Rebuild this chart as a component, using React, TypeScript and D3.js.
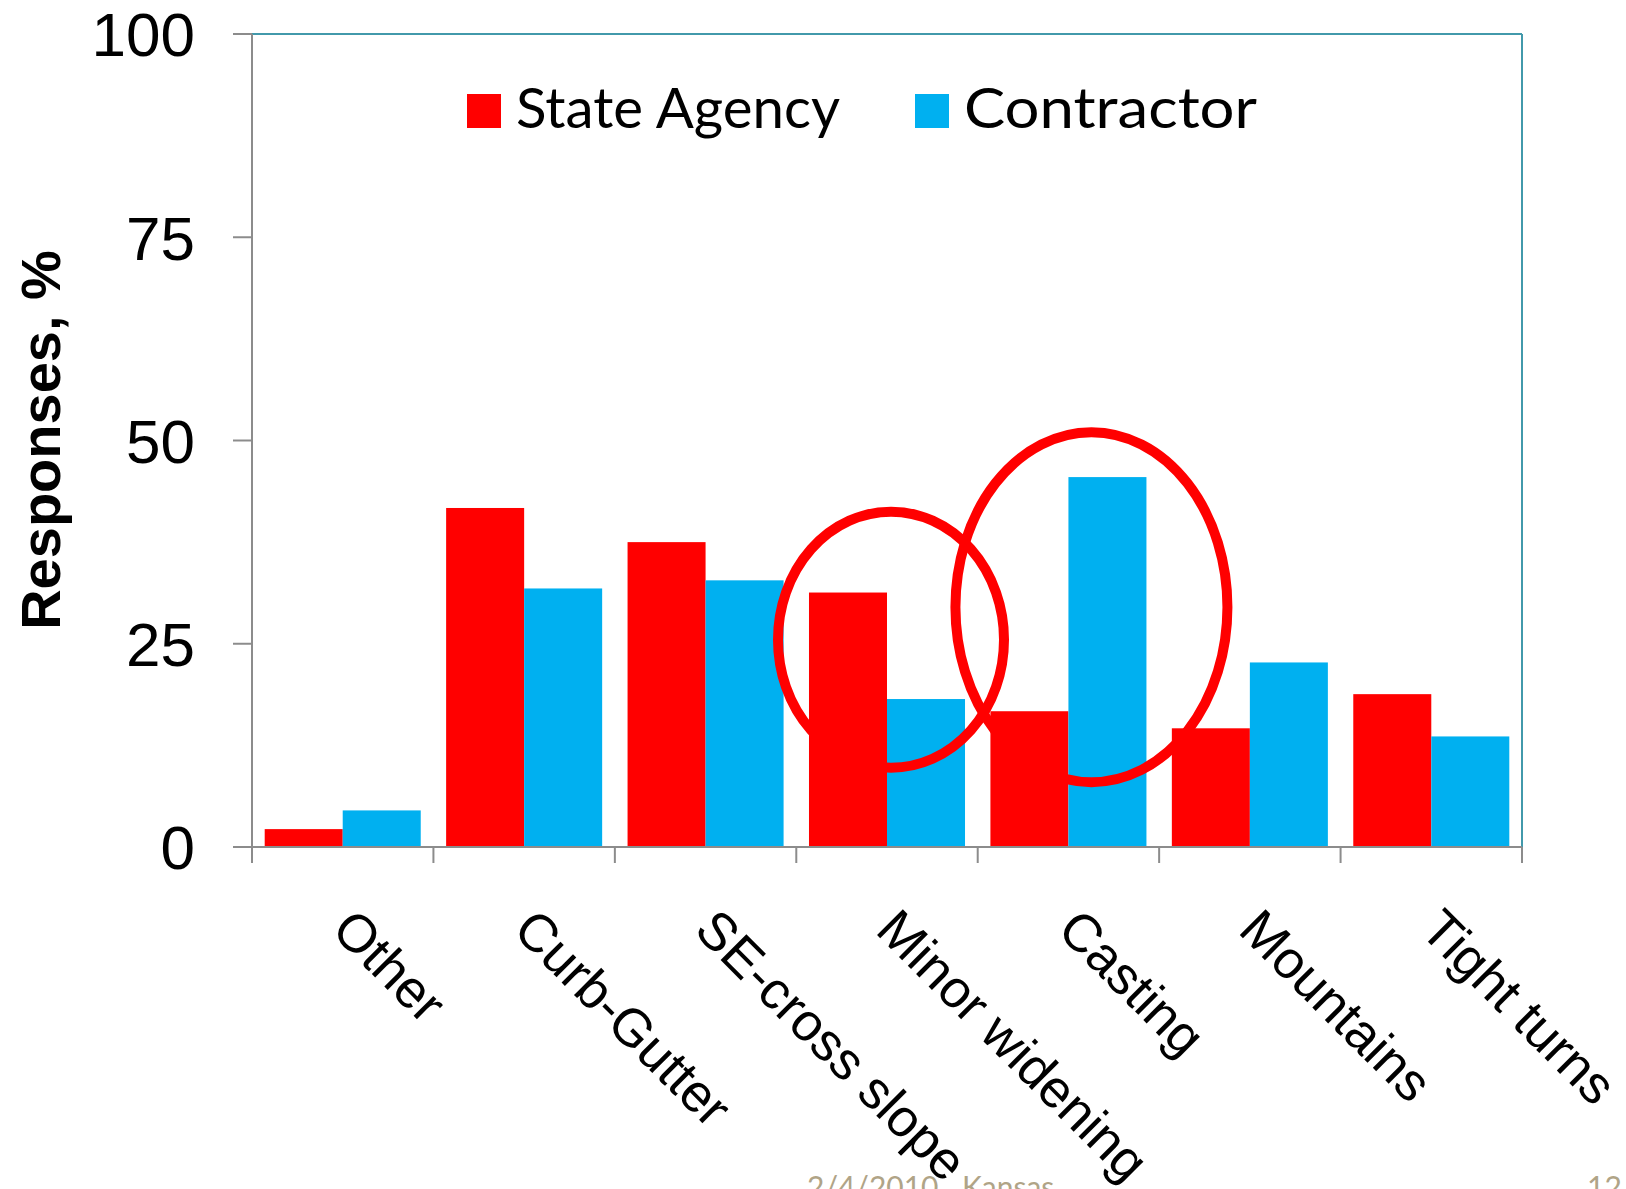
import React from 'react';
import * as d3 from 'd3';

const categories = ['Other', 'Curb-Gutter', 'SE-cross slope', 'Minor widening', 'Casting', 'Mountains', 'Tight turns'];
const seriesNames = ['State Agency', 'Contractor'];
const seriesColors = ['#ff0000', '#00b0f0'];
const stateAgency = [2.2, 41.7, 37.5, 31.3, 16.7, 14.6, 18.8];
const contractor = [4.5, 31.8, 32.8, 18.2, 45.5, 22.7, 13.6];
const yTicks = [0, 25, 50, 75, 100];
const yTitle = 'Responses, %';
const footerDate = '2/4/2010';
const footerPlace = 'Kansas';
const footerPage = '12';
// highlight ellipses: anchored to a category, centre value in %, radii in px
const highlights = [
  { category: 'Minor widening', dx: 4, value: 25.5, rx: 113, ry: 128 },
  { category: 'Casting', dx: 23, value: 29.5, rx: 136, ry: 175 },
];

const W = 1626;
const H = 1189;
const M = { left: 252, right: 1522, top: 34, bottom: 847 };

export default function App() {
  const x0 = d3.scaleBand<string>().domain(categories).range([M.left, M.right]).paddingInner(0.14).paddingOuter(0.07);
  const x1 = d3.scaleBand<string>().domain(seriesNames).range([0, x0.bandwidth()]);
  const y = d3.scaleLinear().domain([0, 100]).range([M.bottom, M.top]);
  const step = x0.step();
  const boundaries = d3.range(categories.length + 1).map((i) => M.left + i * step);
  const values = [stateAgency, contractor];
  const axisGray = '#8c8c8c';
  const teal = '#4299ab';
  const legendX = [467, 915];
  const legendTextLen = [324, 293];

  return (
    <svg width={W} height={H} style={{ position: 'absolute', left: 0, top: 0, background: '#fff' }}>
      <rect x={0} y={0} width={W} height={H} fill="#fff" />
      {/* frame top/right */}
      <line x1={M.left} x2={M.right} y1={M.top} y2={M.top} stroke={teal} strokeWidth={2} />
      <line x1={M.right} x2={M.right} y1={M.top} y2={M.bottom} stroke={teal} strokeWidth={2} />
      {/* bars */}
      {categories.map((c, i) => (
        <g key={c}>
          {seriesNames.map((s, j) => (
            <rect
              key={s}
              x={(x0(c) as number) + (x1(s) as number)}
              y={y(values[j][i])}
              width={x1.bandwidth()}
              height={y(0) - y(values[j][i])}
              fill={seriesColors[j]}
            />
          ))}
        </g>
      ))}
      {/* y axis */}
      <line x1={M.left} x2={M.left} y1={M.top} y2={M.bottom + 16} stroke={axisGray} strokeWidth={2} />
      {yTicks.map((t) => (
        <g key={t}>
          <line x1={M.left - 19} x2={M.left} y1={y(t)} y2={y(t)} stroke={axisGray} strokeWidth={2} />
          <text
            x={M.left - 57}
            y={y(t)}
            dy="0.36em"
            textAnchor="end"
            fontFamily="'Liberation Sans', Arial, sans-serif"
            fontSize={62}
            fill="#000"
          >
            {t}
          </text>
        </g>
      ))}
      {/* x axis */}
      <line x1={M.left - 19} x2={M.right} y1={M.bottom} y2={M.bottom} stroke={axisGray} strokeWidth={2} />
      {boundaries.map((b, i) => (
        <line key={i} x1={b} x2={b} y1={M.bottom} y2={M.bottom + 16} stroke={axisGray} strokeWidth={2} />
      ))}
      {categories.map((c) => {
        const cx = (x0(c) as number) + x0.bandwidth() / 2;
        return (
          <text
            key={c}
            transform={`translate(${cx - 13},${932}) rotate(45)`}
            textAnchor="start"
            fontFamily="'Liberation Sans', Arial, sans-serif"
            fontSize={53}
            fill="#000"
          >
            {c}
          </text>
        );
      })}
      {/* y title */}
      <text
        transform={`translate(60,${440}) rotate(-90)`}
        textAnchor="middle"
        fontFamily="'Liberation Sans', Arial, sans-serif"
        fontWeight="bold"
        fontSize={56}
        fill="#000"
      >
        {yTitle}
      </text>
      {/* legend */}
      {seriesNames.map((s, j) => {
        const lx = legendX[j];
        return (
          <g key={s}>
            <rect x={lx} y={94} width={34} height={34} fill={seriesColors[j]} />
            <text
              x={lx + 49}
              y={128}
              fontFamily="Lato, 'Open Sans', sans-serif"
              fontSize={57}
              fill="#000"
              textLength={legendTextLen[j]}
              lengthAdjust="spacingAndGlyphs"
            >
              {s}
            </text>
          </g>
        );
      })}
      {/* highlight ellipses */}
      {highlights.map((h) => (
        <ellipse
          key={h.category}
          cx={(x0(h.category) as number) + x0.bandwidth() / 2 + h.dx}
          cy={y(h.value)}
          rx={h.rx}
          ry={h.ry}
          fill="none"
          stroke="#ff0000"
          strokeWidth={10}
        />
      ))}
      {/* footer */}
      <text x={807} y={1198} fontFamily="Lato, sans-serif" fontSize={30} fill="#b0a487">
        {footerDate}
      </text>
      <text x={962} y={1198} fontFamily="Lato, sans-serif" fontSize={30} fill="#b0a487">
        {footerPlace}
      </text>
      <text x={1587} y={1198} fontFamily="Lato, sans-serif" fontSize={30} fill="#b0a487">
        {footerPage}
      </text>
    </svg>
  );
}
